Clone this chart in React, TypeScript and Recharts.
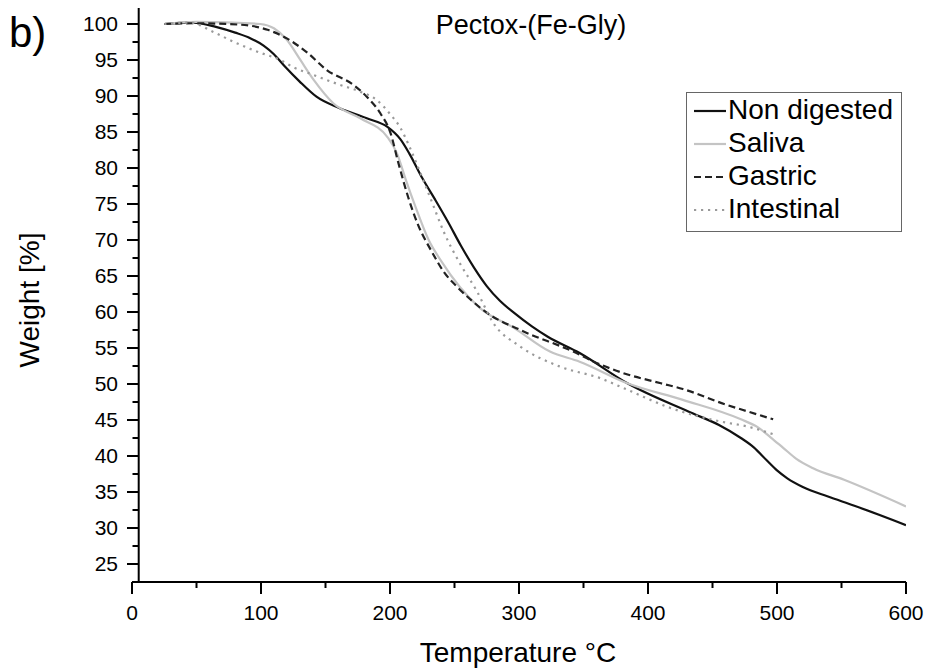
import React from 'react';
import { LineChart, Line, XAxis, YAxis, ReferenceLine, Legend } from 'recharts';

const FONT = '"Liberation Sans", Arial, Helvetica, sans-serif';

// Temperature (°C) and weight (%) per series
const nonDigestedT = [25, 47, 65, 80, 92, 102, 110, 118, 130, 143, 161, 182, 198, 208, 215, 225, 235, 245, 255, 265, 275, 285, 296, 310, 322, 347, 384, 435, 455, 472, 482, 492, 500, 508, 520, 539, 560, 600];
const nonDigestedW = [100, 100.2, 99.6, 98.8, 98, 97, 95.8, 94.2, 92, 89.9, 88.3, 86.9, 85.7, 84, 82, 78.6, 75.6, 72.5, 69.2, 66.2, 63.6, 61.6, 59.9, 58, 56.6, 54.3, 50.1, 45.9, 44.3, 42.5, 41.2, 39.4, 38, 36.9, 35.7, 34.4, 33.1, 30.4];

const salivaT = [25, 50, 99.5, 110, 120, 130.5, 141, 156, 177, 198, 205.5, 212, 220, 230, 240, 254, 270, 296, 324, 347, 384, 427, 472, 485, 495, 505, 515, 528, 552, 600];
const salivaW = [100, 100.3, 100, 99.4, 97.8, 95, 92.2, 89, 86.9, 84.3, 82, 78.5, 74.5, 70, 67, 63.5, 60.5, 57.8, 54.5, 53.1, 50.1, 47.8, 45.1, 44, 42.6, 41.1, 39.6, 38.3, 36.7, 33];

const gastricT = [25, 50, 84, 105, 120, 136, 151, 172, 182, 192.5, 200.5, 206.5, 214, 222, 232, 242, 252, 262, 275, 301, 342, 358, 381, 410, 427, 461, 477, 497];
const gastricW = [100, 100.1, 99.9, 99.2, 98, 96, 93.6, 91.5, 89.9, 87.6, 84.8, 80.7, 76, 72, 68.5, 65.5, 63.5, 61.8, 59.9, 57.5, 54.5, 53.1, 51.5, 50.1, 49.3, 47.1, 46.2, 45.1];

const intestinalT = [25, 45, 63, 79, 99.5, 115, 125, 141, 162, 177, 190, 200.5, 208, 215, 222, 232, 242, 255, 267, 280, 301, 332, 363, 384, 417, 456, 477, 499];
const intestinalW = [100, 100.2, 98.9, 97.5, 96, 95, 94, 92.9, 91.5, 90.6, 89.4, 87.4, 85.6, 83, 80, 75.5, 71, 66.5, 63, 58.5, 55.2, 52.4, 50.8, 49.2, 46.7, 44.8, 44.1, 42.9];

const xTicks = [0, 50, 100, 150, 200, 250, 300, 350, 400, 450, 500, 550, 600];
const yTicks = [25, 27.5, 30, 32.5, 35, 37.5, 40, 42.5, 45, 47.5, 50, 52.5, 55, 57.5, 60, 62.5, 65, 67.5, 70, 72.5, 75, 77.5, 80, 82.5, 85, 87.5, 90, 92.5, 95, 97.5, 100];

const seriesNames = ['Non digested', 'Saliva', 'Gastric', 'Intestinal'];

const toData = (t: number[], w: number[]) => t.map((v, i) => ({ t: v, w: w[i] }));

const series = [
  { name: seriesNames[0], data: toData(nonDigestedT, nonDigestedW), color: '#111111', dash: undefined as string | undefined, width: 2.2 },
  { name: seriesNames[1], data: toData(salivaT, salivaW), color: '#c4c4c4', dash: undefined as string | undefined, width: 2.2 },
  { name: seriesNames[2], data: toData(gastricT, gastricW), color: '#222222', dash: '7 4', width: 2.2 },
  { name: seriesNames[3], data: toData(intestinalT, intestinalW), color: '#9a9a9a', dash: '2.2 4.8', width: 2.2 },
];

const XTick = (props: any) => {
  const { x, y, payload } = props;
  const major = payload.value % 100 === 0;
  return (
    <g>
      <line x1={x} x2={x} y1={y} y2={y + (major ? 12 : 6)} stroke="#000" strokeWidth={2} />
      {major && (
        <text x={x} y={y + 38} textAnchor="middle" fontSize={21} fontFamily={FONT} fill="#000">
          {payload.value}
        </text>
      )}
    </g>
  );
};

const YTick = (props: any) => {
  const { x, y, payload } = props;
  const major = payload.value % 5 === 0;
  const ax = x + 6.5;
  return (
    <g>
      <line x1={ax - (major ? 11.5 : 6)} x2={ax} y1={y} y2={y} stroke="#000" strokeWidth={2} />
      {major && (
        <text x={ax - 20.5} y={y} dy={7.5} textAnchor="end" fontSize={21} fontFamily={FONT} fill="#000">
          {payload.value}
        </text>
      )}
    </g>
  );
};

const LegendBox = () => (
  <svg width={217} height={141} style={{ display: 'block' }}>
    <rect x={0.5} y={0.5} width={215} height={139} fill="#fff" stroke="#666" strokeWidth={1} />
    {series.map((s, i) => (
      <g key={s.name}>
        <line x1={8} x2={40} y1={19 + i * 33} y2={19 + i * 33} stroke={s.color} strokeWidth={s.width} strokeDasharray={s.dash} />
        <text x={42} y={27 + i * 33} fontSize={28} fontFamily={FONT} fill="#000">
          {s.name}
        </text>
      </g>
    ))}
  </svg>
);

export default function App() {
  return (
    <div style={{ position: 'absolute', left: 0, top: 0, width: 928, height: 672, background: '#fff' }}>
      <LineChart width={928} height={672} margin={{ top: 8, right: 22, left: 0, bottom: 0 }}>
        <XAxis
          type="number"
          dataKey="t"
          domain={[0, 600]}
          ticks={xTicks}
          interval={0}
          height={90}
          tickSize={0}
          tickMargin={0}
          tick={<XTick />}
          axisLine={{ stroke: '#000', strokeWidth: 2 }}
          tickLine={false}
          allowDataOverflow
        />
        <YAxis
          type="number"
          domain={[22.5, 102.22]}
          ticks={yTicks}
          interval={0}
          width={132}
          tickSize={0}
          tickMargin={0}
          tick={<YTick />}
          axisLine={false}
          tickLine={false}
          allowDataOverflow
        />
        <ReferenceLine x={5.2} stroke="#000" strokeWidth={2} ifOverflow="visible" />
        {series.map((s) => (
          <Line
            key={s.name}
            data={s.data}
            dataKey="w"
            name={s.name}
            type="monotone"
            stroke={s.color}
            strokeWidth={s.width}
            strokeDasharray={s.dash}
            dot={false}
            activeDot={false}
            isAnimationActive={false}
          />
        ))}
        <Legend
          layout="vertical"
          align="center"
          verticalAlign="middle"
          content={() => <LegendBox />}
          wrapperStyle={{ position: 'absolute', left: 686, top: 92, width: 217, height: 141 }}
        />
        <text x={531} y={34} textAnchor="middle" fontSize={27} fontFamily={FONT} fill="#000">Pectox-(Fe-Gly)</text>
        <text x={518} y={662} textAnchor="middle" fontSize={28} fontFamily={FONT} fill="#000">Temperature °C</text>
        <text x={39} y={300} textAnchor="middle" fontSize={28} fontFamily={FONT} fill="#000" transform="rotate(-90, 39, 300)">Weight [%]</text>
        <text x={9} y={47} fontSize={42} fontFamily={FONT} fill="#000">b)</text>
      </LineChart>
    </div>
  );
}
